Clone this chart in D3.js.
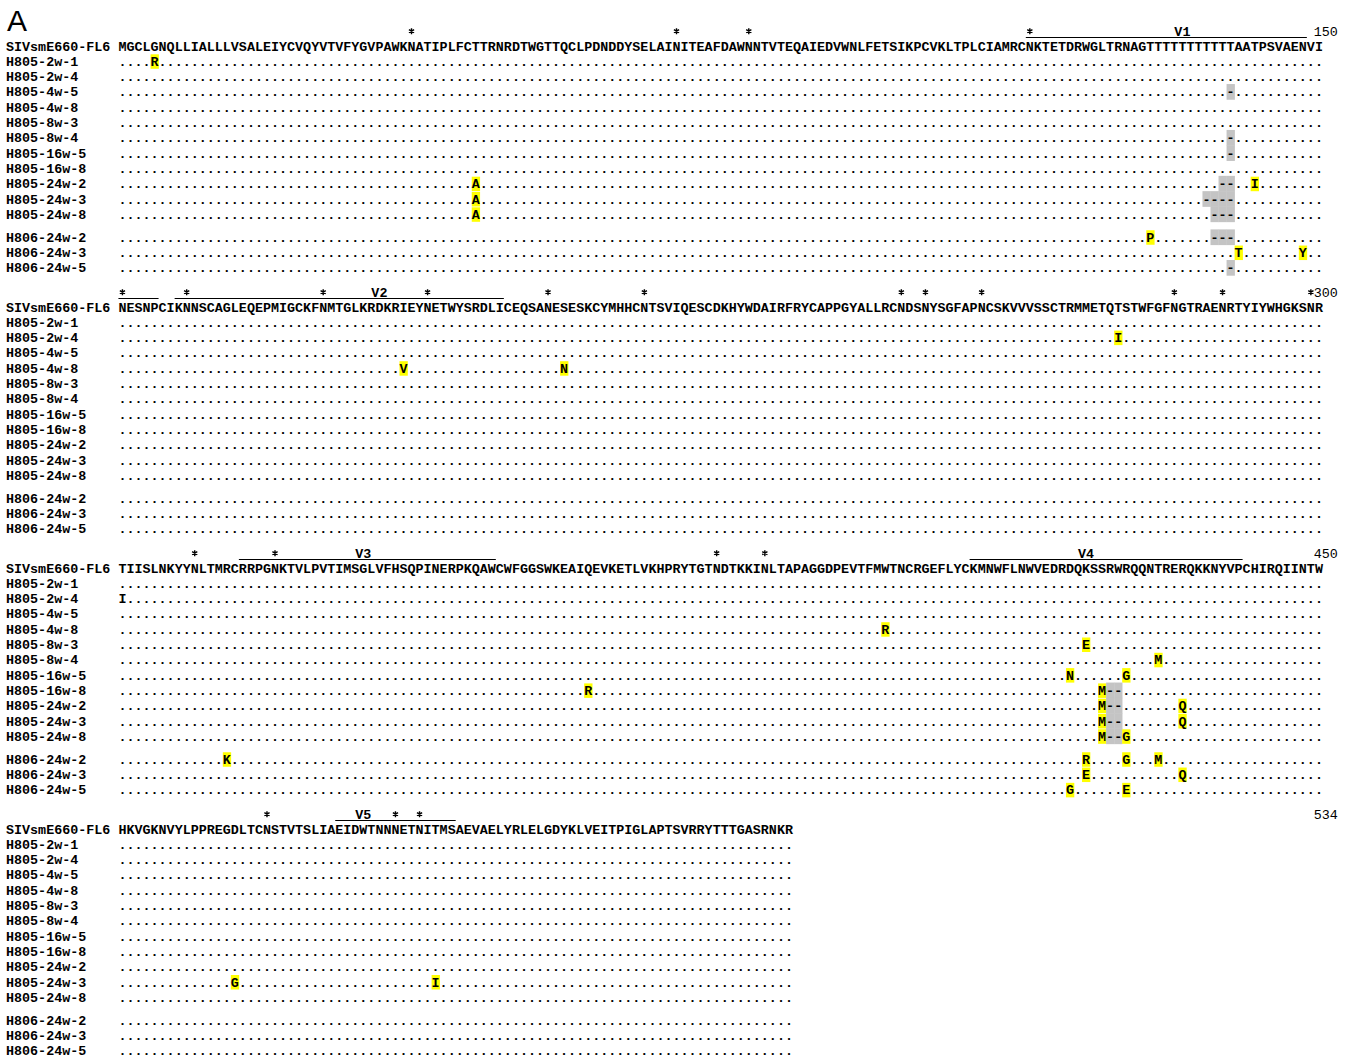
<!DOCTYPE html>
<html>
<head>
<meta charset="utf-8">
<script src="https://cdn.jsdelivr.net/npm/d3@7"></script>
<style>
body { margin: 0; background: #fff; }
</style>
</head>
<body>
<div id="chart"></div>
<script>
// reference sequence, one string per block of 150
const refName = "SIVsmE660-FL6";
const refBlocks = [
  "MGCLGNQLLIALLLVSALEIYCVQYVTVFYGVPAWKNATIPLFCTTRNRDTWGTTQCLPDNDDYSELAINITEAFDAWNNTVTEQAIEDVWNLFETSIKPCVKLTPLCIAMRCNKTETDRWGLTRNAGTTTTTTTTTTTAATPSVAENVI",
  "NESNPCIKNNSCAGLEQEPMIGCKFNMTGLKRDKRIEYNETWYSRDLICEQSANESESKCYMHHCNTSVIQESCDKHYWDAIRFRYCAPPGYALLRCNDSNYSGFAPNCSKVVVSSCTRMMETQTSTWFGFNGTRAENRTYIYWHGKSNR",
  "TIISLNKYYNLTMRCRRPGNKTVLPVTIMSGLVFHSQPINERPKQAWCWFGGSWKEAIQEVKETLVKHPRYTGTNDTKKINLTAPAGGDPEVTFMWTNCRGEFLYCKMNWFLNWVEDRDQKSSRWRQQNTRERQKKNYVPCHIRQIINTW",
  "HKVGKNVYLPPREGDLTCNSTVTSLIAEIDWTNNNETNITMSAEVAELYRLELGDYKLVEITPIGLAPTSVRRYTTTGASRNKR"
];
const blockEndLabels = ["150", "300", "450", "534"];

const samples = [
  "H805-2w-1", "H805-2w-4", "H805-4w-5", "H805-4w-8", "H805-8w-3", "H805-8w-4",
  "H805-16w-5", "H805-16w-8", "H805-24w-2", "H805-24w-3", "H805-24w-8",
  "H806-24w-2", "H806-24w-3", "H806-24w-5"
];
const firstH806 = 11;

// potential N-glycosylation sites (*)
const glycoSites = [37, 70, 79, 114, 151, 159, 176, 189, 204, 216, 248, 251, 258, 282, 288, 299,
  310, 320, 375, 381, 469, 485, 488];

// variable loops: [name, start, end, label position]
const loops = [
  ["V1", 114, 155, 133],
  ["V2", 158, 198, 183],
  ["V3", 316, 347, 331],
  ["V4", 407, 440, 421],
  ["V5", 478, 492, 481]
];

// amino acid changes: [sample, position, residue]
const substitutions = [
  ["H805-2w-1", 5, "R"],
  ["H805-24w-2", 45, "A"], ["H805-24w-3", 45, "A"], ["H805-24w-8", 45, "A"],
  ["H805-24w-2", 142, "I"],
  ["H806-24w-2", 129, "P"],
  ["H806-24w-3", 140, "T"], ["H806-24w-3", 148, "Y"],
  ["H805-2w-4", 275, "I"],
  ["H805-4w-8", 186, "V"], ["H805-4w-8", 206, "N"],
  ["H805-4w-8", 396, "R"],
  ["H805-8w-3", 421, "E"],
  ["H805-8w-4", 430, "M"],
  ["H805-16w-5", 419, "N"], ["H805-16w-5", 426, "G"],
  ["H805-16w-8", 359, "R"], ["H805-16w-8", 423, "M"],
  ["H805-24w-2", 423, "M"], ["H805-24w-2", 433, "Q"],
  ["H805-24w-3", 423, "M"], ["H805-24w-3", 433, "Q"],
  ["H805-24w-8", 423, "M"], ["H805-24w-8", 426, "G"],
  ["H806-24w-2", 314, "K"], ["H806-24w-2", 421, "R"], ["H806-24w-2", 426, "G"], ["H806-24w-2", 430, "M"],
  ["H806-24w-3", 421, "E"], ["H806-24w-3", 433, "Q"],
  ["H806-24w-5", 419, "G"], ["H806-24w-5", 426, "E"],
  ["H805-24w-3", 465, "G"], ["H805-24w-3", 490, "I"]
];
// change printed without highlight
const plainChanges = [["H805-2w-4", 301, "I"]];

// deletions: [sample, position]
const deletions = [
  ["H805-4w-5", 139], ["H805-8w-4", 139], ["H805-16w-5", 139],
  ["H805-24w-2", 138], ["H805-24w-2", 139],
  ["H805-24w-3", 136], ["H805-24w-3", 137], ["H805-24w-3", 138], ["H805-24w-3", 139],
  ["H805-24w-8", 137], ["H805-24w-8", 138], ["H805-24w-8", 139],
  ["H806-24w-2", 137], ["H806-24w-2", 138], ["H806-24w-2", 139],
  ["H806-24w-5", 139],
  ["H805-16w-8", 424], ["H805-16w-8", 425],
  ["H805-24w-2", 424], ["H805-24w-2", 425],
  ["H805-24w-3", 424], ["H805-24w-3", 425],
  ["H805-24w-8", 424], ["H805-24w-8", 425]
];

const width = 1355, height = 1060;
const cw = 8.03;        // 字寬
const rowH = 15.3;
const fontMono = "'Liberation Mono', 'Courier New', monospace";
const fs = 13.38;

const svg = d3.select("#chart").append("svg")
  .attr("width", width).attr("height", height)
  .style("display", "block");

svg.append("text")
  .attr("x", 7).attr("y", 31)
  .attr("font-family", "'Liberation Sans', Arial, sans-serif")
  .attr("font-size", 30)
  .text("A");

// column scale: column 0 = first residue of block, label starts at column -14
const x = d3.scaleLinear().domain([-14, 150]).range([6, 6 + 164 * cw]);
const blockY = d3.scaleLinear().domain([0, 1]).range([46, 307]);
// row 0 = reference, 1.. = samples
const rowY = r => r * rowH + (r > firstH806 ? rowH / 2 : 0);

// asterisk drawn as a small six-armed path
const starR = 3;
const starPath = d3.range(3).map(k => {
  const a = Math.PI / 2 + k * Math.PI / 3;
  const dx = Math.cos(a) * starR, dy = Math.sin(a) * starR;
  return `M${-dx},${-dy}L${dx},${dy}`;
}).join("");

// lookup for changes
const key = (s, p) => s + "|" + p;
const subMap = new Map(substitutions.map(d => [key(d[0], d[1]), d[2]]));
const plainMap = new Map(plainChanges.map(d => [key(d[0], d[1]), d[2]]));
const delSet = new Set(deletions.map(d => key(d[0], d[1])));

refBlocks.forEach((seq, b) => {
  const start = b * 150 + 1;
  const end = start + seq.length - 1;
  const y0 = blockY(b);
  const g = svg.append("g").attr("transform", `translate(0,${y0})`);

  // annotation row: stars, loop bars, end number
  const sites = glycoSites.filter(p => p >= start && p <= end);
  g.selectAll(".star").data(sites).enter().append("path")
    .attr("class", "star")
    .attr("transform", p => `translate(${x(p - start + 0.5)},-14.8)`)
    .attr("d", starPath)
    .attr("stroke", "#000").attr("stroke-width", 1.4)
    .attr("fill", "none");

  const segs = loops.filter(l => l[2] >= start && l[1] <= end);
  segs.forEach(l => {
    const s = Math.max(l[1], start);
    const e = l[2] > end ? end - 2 : l[2];
    g.append("line")
      .attr("x1", x(s - start)).attr("x2", x(e - start + 1))
      .attr("y1", -8.5).attr("y2", -8.5)
      .attr("stroke", "#000").attr("stroke-width", 1.2);
    if (l[3] >= start && l[3] <= end) {
      g.append("text")
        .attr("x", x(l[3] - start + 0.5)).attr("y", -10.5)
        .attr("text-anchor", "middle")
        .attr("font-family", fontMono).attr("font-size", fs).attr("font-weight", "bold")
        .text(l[0]);
    }
  });

  g.append("text")
    .attr("x", x(150) + 15).attr("y", -10.5)
    .attr("text-anchor", "end")
    .attr("font-family", fontMono).attr("font-size", fs)
    .text(blockEndLabels[b]);

  // rows
  const names = [refName].concat(samples);
  names.forEach((name, r) => {
    const yc = rowY(r);
    const rg = g.append("g").attr("transform", `translate(0,${yc})`);
    rg.append("text")
      .attr("x", x(-14)).attr("y", 4.5)
      .attr("font-family", fontMono).attr("font-size", fs).attr("font-weight", "bold")
      .text(name);

    const cells = d3.range(seq.length).map(i => {
      const p = start + i;
      if (r === 0) return { i, ch: seq[i], kind: "ref" };
      const k = key(name, p);
      if (delSet.has(k)) return { i, ch: "-", kind: "del" };
      if (subMap.has(k)) return { i, ch: subMap.get(k), kind: "sub" };
      if (plainMap.has(k)) return { i, ch: plainMap.get(k), kind: "ref" };
      return { i, ch: ".", kind: "dot" };
    });

    rg.selectAll(".bg").data(cells.filter(c => c.kind === "del" || c.kind === "sub")).enter()
      .append("rect")
      .attr("x", c => x(c.i))
      .attr("width", cw + 0.3)
      .attr("y", c => c.kind === "del" ? -rowH / 2 - 0.2 : -7)
      .attr("height", c => c.kind === "del" ? rowH + 0.4 : 14.5)
      .attr("fill", c => c.kind === "del" ? "#c4c4c4" : "#ffff00");

    rg.selectAll(".ch").data(cells).enter().append("text")
      .attr("x", c => x(c.i + 0.5))
      .attr("y", 4.5)
      .attr("text-anchor", "middle")
      .attr("font-family", fontMono).attr("font-size", fs).attr("font-weight", "bold")
      .text(c => c.ch);
  });
});
</script>
</body>
</html>
